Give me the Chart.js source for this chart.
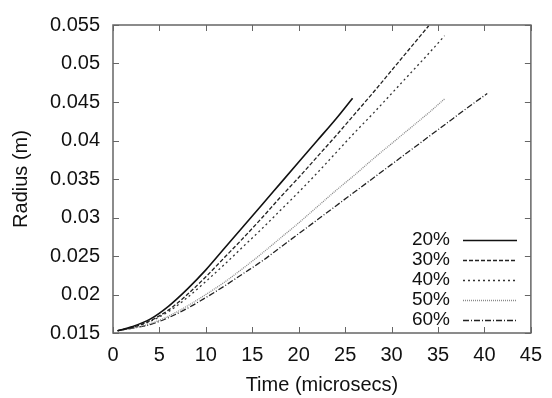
<!DOCTYPE html>
<html>
<head>
<meta charset="utf-8">
<script src="https://cdn.jsdelivr.net/npm/chart.js@4"></script>
<style>
html,body{margin:0;padding:0;background:#fff;}
#wrap{width:552px;height:398px;}
</style>
</head>
<body>
<div id="wrap"><canvas id="c" width="552" height="398"></canvas></div>
<script>
const seriesLabels = ["20%", "30%", "40%", "50%", "60%"];
const xTicks = [0, 5, 10, 15, 20, 25, 30, 35, 40, 45];
const yTicks = [0.015, 0.02, 0.025, 0.03, 0.035, 0.04, 0.045, 0.05, 0.055];

const t20 = [0.5, 2, 4, 6, 8, 10, 12, 14, 16, 18, 20, 22, 24, 25.8];
const r20 = [0.0153, 0.0158, 0.0168, 0.0185, 0.0207, 0.0232, 0.0260, 0.0288, 0.0316, 0.0344, 0.0372, 0.0400, 0.0428, 0.0455];

const t30 = [0.5, 2, 4, 6, 8, 10, 12, 14, 16, 18, 20, 22, 24, 26, 28, 30, 32, 34];
const r30 = [0.0153, 0.0157, 0.0166, 0.0180, 0.0200, 0.0223, 0.0248, 0.0273, 0.0299, 0.0326, 0.0352, 0.0379, 0.0406, 0.0434, 0.0462, 0.0491, 0.0520, 0.0549];

const t40 = [0.5, 2, 4, 6, 8, 10, 12, 14, 16, 18, 20, 22, 24, 26, 28, 30, 32, 34, 35.7];
const r40 = [0.0153, 0.0157, 0.0165, 0.0178, 0.0196, 0.0217, 0.0239, 0.0262, 0.0285, 0.0309, 0.0333, 0.0358, 0.0384, 0.0410, 0.0435, 0.0461, 0.0487, 0.0513, 0.0536];

const t50 = [0.5, 2, 4, 6, 8, 10, 12, 14, 16, 18, 20, 22, 24, 26, 28, 30, 32, 34, 35.7];
const r50 = [0.0153, 0.0156, 0.0162, 0.0172, 0.0185, 0.0200, 0.0216, 0.0234, 0.0253, 0.0273, 0.0293, 0.0314, 0.0335, 0.0355, 0.0376, 0.0396, 0.0416, 0.0436, 0.0454];

const t60 = [0.5, 2, 4, 6, 8, 10, 12, 14, 16, 18, 20, 22, 24, 26, 28, 30, 32, 34, 36, 38, 40.3];
const r60 = [0.0153, 0.0156, 0.0161, 0.0170, 0.0182, 0.0196, 0.0211, 0.0227, 0.0243, 0.0261, 0.0279, 0.0297, 0.0315, 0.0333, 0.0351, 0.0369, 0.0387, 0.0405, 0.0423, 0.0441, 0.0461];

const times = [t20, t30, t40, t50, t60];
const radii = [r20, r30, r40, r50, r60];
const colors = ["#111111", "#222222", "#333333", "#8a8a8a", "#222222"];
const dashes = [[], [4, 2], [2, 3], [1, 1], [6, 2, 1, 2]];
const widths = [1.6, 1.3, 1.3, 1.3, 1.3];

const FONT = "'Liberation Sans', Arial, Helvetica, sans-serif";
const FS = 20;

function toPts(xs, ys) { return xs.map((x, i) => ({x: x, y: ys[i]})); }

const datasets = seriesLabels.map((lab, i) => ({
  label: lab,
  data: toPts(times[i], radii[i]),
  borderColor: colors[i],
  borderWidth: widths[i],
  borderDash: dashes[i],
  pointRadius: 0,
  fill: false,
  showLine: true,
  cubicInterpolationMode: 'monotone'
}));

const frameColor = "#666666";

const framePlugin = {
  id: 'frame',
  afterDatasetsDraw(chart) {
    const ctx = chart.ctx;
    const a = chart.chartArea;
    const xs = chart.scales.x, ys = chart.scales.y;
    ctx.save();
    ctx.strokeStyle = frameColor;
    ctx.lineWidth = 1.5;
    ctx.setLineDash([]);
    ctx.strokeRect(a.left, a.top, a.right - a.left, a.bottom - a.top);
    ctx.lineWidth = 1;
    const L = 6;
    xTicks.forEach(v => {
      const p = Math.round(xs.getPixelForValue(v)) + 0.5;
      ctx.beginPath();
      ctx.moveTo(p, a.bottom); ctx.lineTo(p, a.bottom - L);
      ctx.moveTo(p, a.top); ctx.lineTo(p, a.top + L);
      ctx.stroke();
    });
    yTicks.forEach(v => {
      const p = Math.round(ys.getPixelForValue(v)) + 0.5;
      ctx.beginPath();
      ctx.moveTo(a.left, p); ctx.lineTo(a.left + L, p);
      ctx.moveTo(a.right, p); ctx.lineTo(a.right - L, p);
      ctx.stroke();
    });
    // legend (gnuplot style: label then line sample)
    ctx.font = "19px " + FONT;
    ctx.textAlign = 'right';
    ctx.textBaseline = 'middle';
    const textRight = 450, sx0 = 463, sx1 = 517, y0 = 240, dy = 20;
    chart.data.datasets.forEach((ds, i) => {
      const y = y0 + i * dy;
      ctx.fillStyle = "#111";
      ctx.fillText(ds.label, textRight, y);
      ctx.strokeStyle = ds.borderColor;
      ctx.lineWidth = ds.borderWidth;
      ctx.setLineDash(ds.borderDash);
      ctx.beginPath();
      ctx.moveTo(sx0, y + 0.5); ctx.lineTo(sx1, y + 0.5);
      ctx.stroke();
    });
    ctx.restore();
  }
};

new Chart(document.getElementById('c'), {
  type: 'scatter',
  data: { datasets: datasets },
  options: {
    responsive: false,
    animation: false,
    devicePixelRatio: 1,
    layout: { padding: { top: 19, right: 11, left: 0, bottom: 0 } },
    plugins: { legend: { display: false }, tooltip: { enabled: false } },
    scales: {
      x: {
        type: 'linear', min: 0, max: 45,
        afterBuildTicks(s) { s.ticks = xTicks.map(v => ({value: v})); },
        afterFit(s) { s.height = 65; },
        grid: { display: false, drawTicks: false },
        border: { display: false },
        ticks: { padding: 10, color: "#111", font: { family: FONT, size: FS }, maxRotation: 0, callback: v => String(v) },
        title: { display: true, text: 'Time (microsecs)', color: "#111", font: { family: FONT, size: FS }, padding: { top: 0, bottom: 1 } }
      },
      y: {
        type: 'linear', min: 0.015, max: 0.055,
        afterBuildTicks(s) { s.ticks = yTicks.map(v => ({value: v})); },
        afterFit(s) { s.width = 113; },
        grid: { display: false, drawTicks: false },
        border: { display: false },
        ticks: { padding: 13, color: "#111", font: { family: FONT, size: FS }, callback: v => String(+v.toFixed(3)) },
        title: { display: true, text: 'Radius (m)', color: "#111", font: { family: FONT, size: FS }, padding: { top: 9, bottom: 0 } }
      }
    }
  },
  plugins: [framePlugin]
});
</script>
</body>
</html>
